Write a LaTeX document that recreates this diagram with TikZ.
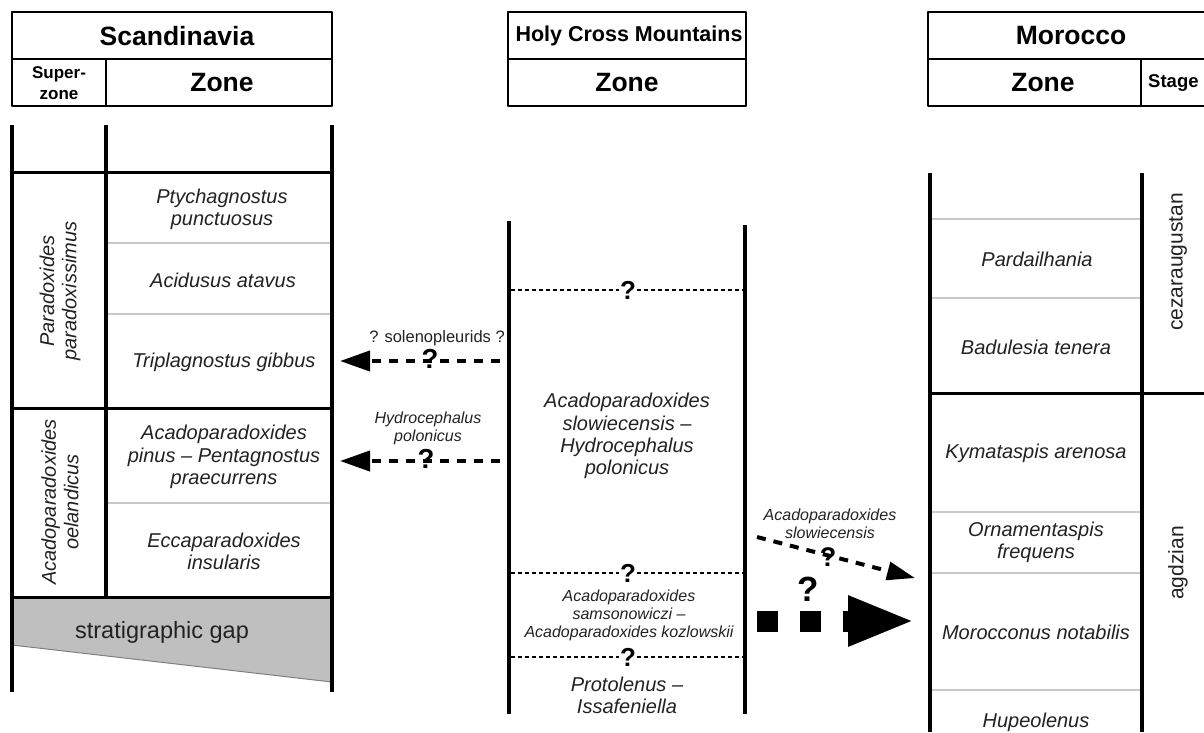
\documentclass[tikz,border=0pt]{standalone}
\usepackage{fontspec}
\setmainfont{Liberation Sans}
\usetikzlibrary{arrows.meta}
\definecolor{txt}{HTML}{222222}
\definecolor{thin}{HTML}{C8C8C8}
\definecolor{gapfill}{HTML}{BFBFBF}
\tikzset{
  hdrbig/.style={font=\fontsize{26.5}{28}\selectfont\bfseries, inner sep=0pt},
  hdrmid/.style={font=\fontsize{21.5}{24}\selectfont\bfseries, inner sep=0pt},
  hdrsmall/.style={font=\fontsize{17}{21}\selectfont\bfseries, align=center, inner sep=0pt},
  zone/.style={font=\fontsize{20}{22.3}\selectfont\itshape, align=center, text=txt, inner sep=0pt},
  smallzone/.style={font=\fontsize{16}{18}\selectfont\itshape, align=center, text=txt, inner sep=0pt},
  plain/.style={font=\fontsize{21}{22}\selectfont, align=center, text=txt, inner sep=0pt},
  qmark/.style={font=\fontsize{26}{26}\selectfont\bfseries, inner sep=0pt},
  boxline/.style={line width=2.5pt, line join=round},
  colline/.style={line width=4pt},
  rowline/.style={line width=3pt},
  thinline/.style={line width=1.5pt, color=thin},
  qline/.style={line width=1.5pt, dash pattern=on 4pt off 3pt},
  corrarrow/.style={line width=4pt, dash pattern=on 9pt off 8pt, -{Triangle[length=30pt,width=20pt]}},
}
\begin{document}
\begin{tikzpicture}[x=1pt,y=-1pt]
\useasboundingbox (0,0) rectangle (1204,732);
\clip (0,0) rectangle (1204,732);
\fill[white] (0,0) rectangle (1204,732);

% ---------- headers ----------
\draw[boxline] (12,12) rectangle (332,106);
\draw[boxline] (12,59) -- (332,59);
\draw[boxline] (106,59) -- (106,106);
\node[hdrbig] (hScan) at (177,36) {Scandinavia};
\node[hdrsmall] (hSuper) at (59,83) {Super-\\zone};
\node[hdrbig] (hZoneS) at (222,83) {Zone};

\draw[boxline] (508,12) rectangle (746,106);
\draw[boxline] (508,59) -- (746,59);
\node[hdrmid] (hHCM) at (629,36) {Holy Cross Mountains};
\node[hdrbig] (hZoneH) at (627,83) {Zone};

\draw[boxline] (1215,12) -- (928,12) -- (928,106) -- (1215,106);
\draw[boxline] (928,59) -- (1215,59);
\draw[boxline] (1141,59) -- (1141,106);
\node[hdrbig] (hMor) at (1071,36) {Morocco};
\node[hdrbig] (hZoneM) at (1043,83) {Zone};
\node[font=\fontsize{18.5}{20}\selectfont\bfseries, anchor=west, inner sep=0pt] (hStage) at (1148,83) {Stage};

% ---------- Scandinavia column ----------
\fill[gapfill] (12,597) -- (332,597) -- (332,682) -- (12,645) -- cycle;
\draw[line width=1pt, color=gray] (12,645) -- (332,682);
\draw[thinline] (108,243) -- (330,243);
\draw[thinline] (108,314) -- (330,314);
\draw[thinline] (108,503) -- (330,503);
\draw[rowline] (12,172) -- (332,172);
\draw[rowline] (12,408) -- (332,408);
\draw[rowline] (12,597) -- (332,597);
\draw[colline] (12,125) -- (12,692);
\draw[colline] (106,125) -- (106,597);
\draw[colline] (332,125) -- (332,692);

\node[zone, rotate=90] (sPara) at (60,291) {Paradoxides\\paradoxissimus};
\node[zone, rotate=90] (sOel) at (60,502) {Acadoparadoxides\\oelandicus};
\node[zone] (sPty) at (222,209) {Ptychagnostus\\punctuosus};
\node[zone] (sAci) at (223,280) {Acidusus atavus};
\node[zone] (sTri) at (224,362) {Triplagnostus gibbus};
\node[zone] (sPin) at (224,457) {Acadoparadoxides\\pinus -- Pentagnostus\\praecurrens};
\node[zone] (sEcc) at (224,551) {Eccaparadoxides\\insularis};
\node[plain, font=\fontsize{23.5}{24}\selectfont] (sGap) at (162,632) {stratigraphic gap};

% ---------- Holy Cross column ----------
\draw[qline] (511,290) -- (743,290);
\draw[qline] (511,573) -- (743,573);
\draw[qline] (511,657) -- (743,657);
\draw[colline] (509,221) -- (509,714);
\draw[colline] (745,225) -- (745,714);
\node[qmark, fill=white, inner xsep=1pt] (q1) at (628,290) {?};
\node[qmark, fill=white, inner xsep=1pt] (q2) at (628,573) {?};
\node[qmark, fill=white, inner xsep=1pt] (q3) at (628,657) {?};
\node[zone] (hSlow) at (627,436) {Acadoparadoxides\\slowiecensis --\\Hydrocephalus\\polonicus};
\node[smallzone] (hSams) at (629,615) {Acadoparadoxides\\samsonowiczi --\\Acadoparadoxides kozlowskii};
\node[zone] (hProt) at (627,695) {Protolenus --\\Issafeniella};

% ---------- Morocco column ----------
\draw[thinline] (932,219) -- (1140,219);
\draw[thinline] (932,298) -- (1140,298);
\draw[thinline] (932,512) -- (1140,512);
\draw[thinline] (932,573) -- (1140,573);
\draw[thinline] (932,690) -- (1140,690);
\draw[rowline] (930,393) -- (1204,393);
\draw[colline] (930,173) -- (930,732);
\draw[colline] (1142,173) -- (1142,732);
\node[zone] (mPar) at (1037,259) {Pardailhania};
\node[zone] (mBad) at (1036,347) {Badulesia tenera};
\node[zone] (mKym) at (1036,453) {Kymataspis arenosa};
\node[zone] (mOrn) at (1036,542) {Ornamentaspis\\frequens};
\node[zone] (mMor) at (1036,632) {Morocconus notabilis};
\node[zone] (mHup) at (1036,722) {Hupeolenus};
\node[plain, rotate=90] (mCez) at (1178,262) {cezaraugustan};
\node[plain, rotate=90] (mAgd) at (1178,563) {agdzian};

% ---------- correlation arrows ----------
\coordinate (a1s) at (500,361);
\coordinate (a1e) at (340,361);
\draw[corrarrow] (a1s) -- (a1e);
\node[qmark, font=\fontsize{27.5}{27.5}\selectfont\bfseries] (qa1) at (430,359) {?};
\node[font=\fontsize{16.5}{18}\selectfont, text=txt, inner sep=0pt] (lSol) at (437,338) {? solenopleurids ?};

\coordinate (a2s) at (500,461);
\coordinate (a2e) at (340,461);
\draw[corrarrow] (a2s) -- (a2e);
\node[qmark, font=\fontsize{27.5}{27.5}\selectfont\bfseries] (qa2) at (426,459) {?};
\node[smallzone] (lHyd) at (428,428) {Hydrocephalus\\polonicus};

\coordinate (a3s) at (757,537);
\coordinate (a3e) at (915,578);
\draw[line width=4pt, dash pattern=on 9pt off 8pt, -{Triangle[length=28pt,width=18pt]}] (a3s) -- (a3e);
\node[qmark, font=\fontsize{27}{27}\selectfont\bfseries] (qa3) at (828,557) {?};
\node[smallzone] (lSlow) at (830,524) {Acadoparadoxides\\slowiecensis};

\coordinate (a4s) at (757,621);
\coordinate (a4e) at (915,621);
\draw[line width=21pt, dash pattern=on 21pt off 22pt, -{Triangle[length=67pt,width=46pt]}] (a4s) -- (a4e);
\node[qmark, font=\fontsize{35}{35}\selectfont\bfseries] (qa4) at (808,589) {?};
\end{tikzpicture}
\end{document}
